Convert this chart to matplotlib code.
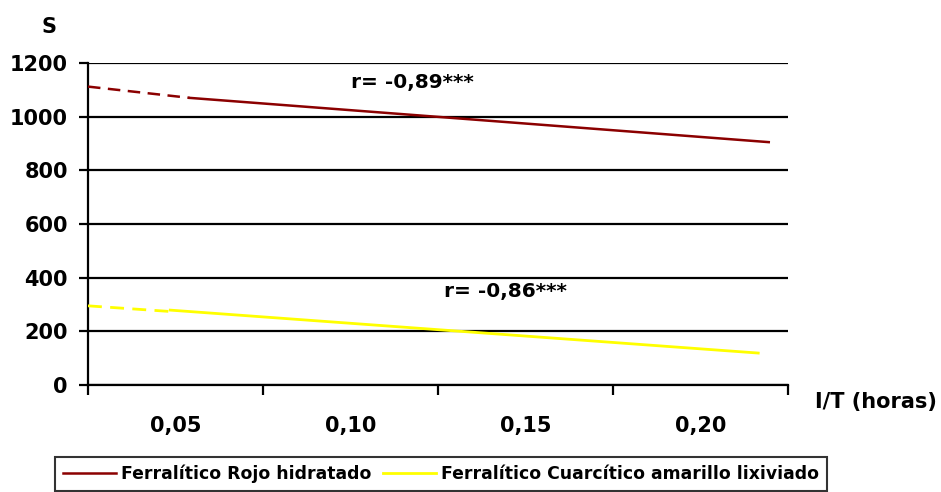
import matplotlib.pyplot as plt

plt.rcParams['font.family'] = ['DejaVu Sans']
plt.rcParams['font.weight'] = 'bold'

# category axis: edges at 0..4, labels centred in each slot
x_edges = [0, 1, 2, 3, 4]
x_labels = ['0,05', '0,10', '0,15', '0,20']
y_ticks = [0, 200, 400, 600, 800, 1000, 1200]

# trend lines (x in category units)
rojo_dash_x = [0, 0.58]
rojo_dash_y = [1112, 1070]
rojo_x = [0.58, 3.89]
rojo_y = [1070, 905]

amar_dash_x = [0, 0.49]
amar_dash_y = [295, 273]
amar_x = [0.47, 3.83]
amar_y = [279, 119]

rojo_label = 'Ferralítico Rojo hidratado'
amar_label = 'Ferralítico Cuarcítico amarillo lixiviado'
rojo_color = '#8b0000'
amar_color = '#ffff00'

fig = plt.figure(figsize=(9.41, 4.92), dpi=100)
ax = fig.add_axes([0.0935, 0.2175, 0.7439, 0.6545])

for y in y_ticks:
    ax.axhline(y, color='black', lw=1.6, zorder=1)

ax.plot(rojo_dash_x, rojo_dash_y, color=rojo_color, lw=1.8, ls=(0, (5, 3)), zorder=3)
ax.plot(rojo_x, rojo_y, color=rojo_color, lw=1.8, zorder=3, label=rojo_label)
ax.plot(amar_dash_x, amar_dash_y, color=amar_color, lw=2.0, ls=(0, (5, 3)), zorder=3)
ax.plot(amar_x, amar_y, color=amar_color, lw=2.0, zorder=3, label=amar_label)

ax.set_xlim(0, 4)
ax.set_ylim(0, 1200)
ax.set_yticks(y_ticks)
ax.set_yticklabels([str(v) for v in y_ticks], fontsize=15, fontweight='bold')
ax.set_xticks(x_edges)
ax.set_xticklabels([])
ax.set_xticks([i + 0.5 for i in range(len(x_labels))], minor=True)
ax.set_xticklabels(x_labels, minor=True, fontsize=15, fontweight='bold')
ax.tick_params(axis='x', which='minor', length=0, pad=22)
ax.tick_params(axis='x', which='major', length=7, width=1.6, direction='out')
ax.tick_params(axis='y', length=6.5, width=1.6, direction='out', pad=8)

for s in ['top', 'right']:
    ax.spines[s].set_visible(False)
ax.spines['left'].set_linewidth(1.6)
ax.spines['bottom'].set_linewidth(1.6)

ax.text(0.376, 0.938, 'r= -0,89***', transform=ax.transAxes, fontsize=14.5,
        fontweight='bold', va='center', ha='left')
ax.text(0.509, 0.289, 'r= -0,86***', transform=ax.transAxes, fontsize=14.5,
        fontweight='bold', va='center', ha='left')

fig.text(49 / 941, 1 - 27 / 492, 'S', fontsize=15, fontweight='bold', ha='center', va='center')
fig.text(815 / 941, 1 - 402 / 492, 'I/T (horas)', fontsize=15, fontweight='bold',
         ha='left', va='center')

leg = fig.legend(loc='upper left', bbox_to_anchor=(55 / 941, 1 - 457 / 492), ncol=2,
                 frameon=True, fancybox=False, edgecolor='black',
                 handlelength=3.1, columnspacing=0.65, handletextpad=0.3,
                 borderpad=0.45, borderaxespad=0, prop={'weight': 'bold', 'size': 12.4})
leg.get_frame().set_linewidth(1.5)

fig.savefig('out.png', dpi=100)
